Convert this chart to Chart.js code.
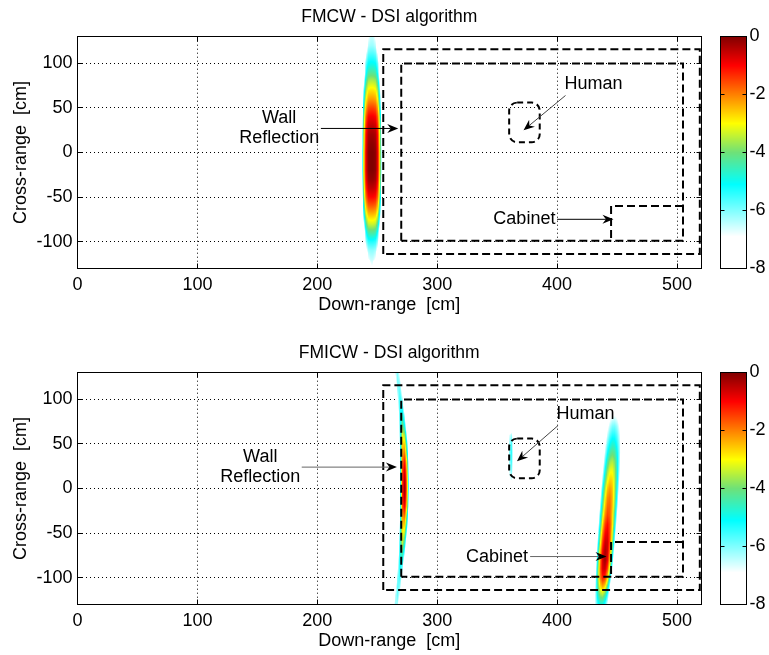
<!DOCTYPE html>
<html><head><meta charset="utf-8">
<script src="https://cdn.jsdelivr.net/npm/chart.js@4/dist/chart.umd.min.js"></script>
<style>
html,body{margin:0;padding:0;background:#fff;overflow:hidden;width:769px;height:655px;position:relative}
canvas{position:absolute;left:0}
#c1{top:0}
#c2{top:336px}
</style></head><body>
<canvas id="c1" width="769" height="319"></canvas>
<canvas id="c2" width="769" height="319"></canvas>
<script>
// ---------- axis / label data ----------
const xTicks = [0, 100, 200, 300, 400, 500];
const yTicks = [-100, -50, 0, 50, 100];
const cbTicks = [0, -2, -4, -6, -8];
const xRange = [0, 520];
const yRange = [-130, 130];
const cbRange = [0, -8];
const titles = ['FMCW - DSI algorithm', 'FMICW - DSI algorithm'];
const xLabel = 'Down-range  [cm]';
const yLabel = 'Cross-range  [cm]';

// ---------- scene outlines (cm) ----------
const outerWall = [[255, -114], [255, 116], [519, 116], [519, -114], [255, -114]];
const innerRoom = [[270, -99], [270, 100], [505, 100], [505, -99], [270, -99]];
const cabinetBox = [[505, -60], [445, -60], [445, -99]];
const humanBox = {x1: 360, x2: 385.5, y1: 11.5, y2: 56};

// ---------- annotations ----------
const fmcwNotes = [
  {lines: ['Wall', 'Reflection'], x: 168.2, y: 27},
  {lines: ['Human'], x: 430.3, y: 77.3},
  {lines: ['Cabinet'], x: 372.7, y: -75}
];
const fmcwArrows = [
  {from: [203, 27], to: [267.5, 27], color: '#000'},
  {from: [407, 64], to: [372, 25], color: '#444'},
  {from: [400, -75], to: [447, -75], color: '#000'}
];
const fmicwNotes = [
  {lines: ['Wall', 'Reflection'], x: 152.4, y: 24.1},
  {lines: ['Human'], x: 423.6, y: 83.8},
  {lines: ['Cabinet'], x: 349.9, y: -76.4}
];
const fmicwArrows = [
  {from: [187, 24], to: [266.4, 24], color: '#666'},
  {from: [400.8, 70.7], to: [366.5, 30.5], color: '#444'},
  {from: [377.5, -76.4], to: [441.2, -76.4], color: '#666'}
];

// ---------- image values (dB) ----------
// FMCW: wall reflection
const fmcwWallX = [236.5, 238.5, 240.5, 242.5, 244.5, 246.5, 248.5, 250.5, 252.5, 254.5];
const fmcwWallY = [130,120,110,100,90,80,70,60,50,40,30,20,10,0,-10,-20,-30,-40,-50,-60,-70,-80,-90,-100,-110,-120,-130];
const fmcwWallDb = [
  [-12,-12,-10.2,-6.97,-6.5,-6.5,-6.97,-10.2,-12,-12],
  [-12,-12,-8.0,-6.43,-6.2,-6.2,-6.43,-8.0,-12,-12],
  [-12,-10.0,-6.76,-5.75,-5.6,-5.6,-5.75,-6.76,-10.0,-12],
  [-12,-8.36,-5.88,-5.11,-5.0,-5.0,-5.11,-5.88,-8.36,-12],
  [-12,-8.45,-5.38,-4.44,-4.3,-4.3,-4.44,-5.38,-8.45,-12],
  [-12,-7.31,-4.49,-3.63,-3.5,-3.5,-3.63,-4.49,-7.31,-12],
  [-12,-6.35,-3.72,-2.92,-2.8,-2.8,-2.92,-3.72,-6.35,-12],
  [-11.5,-5.6,-3.09,-2.31,-2.2,-2.2,-2.31,-3.09,-5.6,-11.5],
  [-10.9,-4.95,-2.4,-1.62,-1.5,-1.5,-1.62,-2.4,-4.95,-10.9],
  [-10.25,-4.32,-1.79,-1.02,-0.9,-0.9,-1.02,-1.79,-4.32,-10.25],
  [-9.93,-3.95,-1.4,-0.62,-0.5,-0.5,-0.62,-1.4,-3.95,-9.93],
  [-9.55,-3.65,-1.13,-0.36,-0.25,-0.25,-0.36,-1.13,-3.65,-9.55],
  [-9.58,-3.57,-1.0,-0.22,-0.1,-0.1,-0.22,-1.0,-3.57,-9.58],
  [-9.16,-3.36,-0.87,-0.11,0,0,-0.11,-0.87,-3.36,-9.16],
  [-9.16,-3.36,-0.87,-0.11,0,0,-0.11,-0.87,-3.36,-9.16],
  [-9.16,-3.36,-0.87,-0.11,0,0,-0.11,-0.87,-3.36,-9.16],
  [-9.57,-3.6,-1.04,-0.27,-0.15,-0.15,-0.27,-1.04,-3.6,-9.57],
  [-9.93,-3.95,-1.4,-0.62,-0.5,-0.5,-0.62,-1.4,-3.95,-9.93],
  [-10.2,-4.37,-1.88,-1.11,-1.0,-1.0,-1.11,-1.88,-4.37,-10.2],
  [-10.8,-5.05,-2.57,-1.81,-1.7,-1.7,-1.81,-2.57,-5.05,-10.8],
  [-11.8,-5.89,-3.38,-2.61,-2.5,-2.5,-2.61,-3.38,-5.89,-11.8],
  [-12,-7.06,-4.28,-3.43,-3.3,-3.3,-3.43,-4.28,-7.06,-12],
  [-12,-8.45,-5.38,-4.44,-4.3,-4.3,-4.44,-5.38,-8.45,-12],
  [-12,-8.72,-6.19,-5.43,-5.3,-5.3,-5.43,-6.19,-8.72,-12],
  [-12,-10.7,-7.31,-6.26,-6.1,-6.1,-6.26,-7.31,-10.7,-12],
  [-12,-12,-9.5,-6.89,-6.5,-6.5,-6.89,-9.5,-12,-12],
  [-12,-12,-12,-12,-7.06,-7.06,-12,-12,-12,-12]
];

// FMICW: wall reflection
const fmicwWallX = [261, 263, 265, 267, 269, 271, 273, 275, 277, 279];
const fmicwWallY = [130,120,110,100,90,80,70,60,50,40,30,20,10,0,-10,-20,-30,-40,-50,-60,-70,-80,-90,-100,-110,-120,-130];
const fmicwWallDb = [
  [-12,-9.04,-6.64,-6.02,-7.18,-10.1,-12,-12,-12,-12],
  [-12,-10.97,-7.45,-5.89,-6.28,-8.62,-12,-12,-12,-12],
  [-12,-12,-8.68,-6.12,-5.7,-7.4,-11.24,-12,-12,-12],
  [-12,-12,-10.6,-6.75,-5.31,-6.27,-9.63,-12,-12,-12],
  [-12,-12,-12,-7.46,-5.24,-5.35,-7.81,-12,-12,-12],
  [-12,-12,-12,-8.42,-5.27,-4.55,-6.24,-10.36,-12,-12],
  [-12,-12,-12,-9.19,-5.36,-4.0,-5.11,-8.7,-12,-12],
  [-12,-12,-12,-10.3,-5.34,-3.12,-3.68,-7.0,-12,-12],
  [-12,-12,-12,-11.2,-5.51,-2.66,-2.66,-5.51,-11.2,-12],
  [-12,-12,-12,-12,-5.99,-2.37,-1.89,-4.57,-10.4,-12],
  [-12,-12,-12,-12,-5.86,-1.89,-1.1,-3.48,-9.04,-12],
  [-12,-12,-12,-12,-6.01,-1.59,-0.57,-2.95,-8.73,-12],
  [-12,-12,-12,-12,-6.25,-1.48,-0.24,-2.54,-8.37,-12],
  [-12,-12,-12,-12,-6.21,-1.31,-0.04,-2.4,-8.38,-12],
  [-12,-12,-12,-12,-5.93,-1.33,-0.27,-2.75,-8.76,-12],
  [-12,-12,-12,-12,-5.77,-1.63,-0.8,-3.28,-9.08,-12],
  [-12,-12,-12,-12,-5.93,-2.19,-1.7,-4.46,-10.47,-12],
  [-12,-12,-12,-11.3,-5.46,-2.56,-2.56,-5.46,-11.3,-12],
  [-12,-12,-12,-10.4,-5.23,-2.93,-3.51,-6.96,-12,-12],
  [-12,-12,-12,-9.4,-4.9,-3.3,-4.61,-8.82,-12,-12],
  [-12,-12,-12,-8.48,-4.88,-4.06,-5.99,-10.7,-12,-12],
  [-12,-12,-12,-7.39,-4.87,-5.0,-7.79,-12,-12,-12],
  [-12,-12,-10.78,-6.66,-5.11,-6.14,-9.75,-12,-12,-12],
  [-12,-12,-8.74,-5.97,-5.5,-7.35,-11.5,-12,-12,-12],
  [-12,-11.24,-7.4,-5.7,-6.12,-8.68,-12,-12,-12,-12],
  [-12,-9.14,-6.51,-5.82,-7.09,-10.3,-12,-12,-12,-12],
  [-11.1,-7.74,-6.14,-6.32,-8.28,-12,-12,-12,-12,-12]
];

// FMICW: human
const fmicwHumanX = [358, 360, 362, 364, 366];
const fmicwHumanY = [70, 60, 50, 40, 30, 20, 10, 0];
const fmicwHumanDb = [
  [-12,-9.0,-8.4,-10,-12],
  [-9.46,-6.8,-6.27,-7.87,-11.6],
  [-10.0,-6.33,-5.59,-7.81,-12],
  [-10.2,-6.2,-5.4,-7.8,-12],
  [-10.0,-6.33,-5.59,-7.81,-12],
  [-9.7,-6.6,-5.98,-7.84,-12],
  [-9.13,-7.07,-6.65,-7.9,-12],
  [-12,-12,-12,-12,-12]
];

// FMICW: cabinet
const fmicwCabX = [428,430,432,434,436,438,440,442,444,446,448,450,452,454,456];
const fmicwCabY = [90,80,70,60,50,40,30,20,10,0,-10,-20,-30,-40,-50,-60,-70,-80,-90,-100,-110,-120,-130];
const fmicwCabDb = [
  [-12,-12,-12,-12,-12,-9.86,-9.0,-8.36,-7.91,-7.66,-7.61,-7.76,-8.11,-8.66,-9.4],
  [-12,-12,-12,-12,-11.5,-9.96,-8.73,-7.79,-7.14,-6.78,-6.71,-6.93,-7.43,-8.23,-9.31],
  [-12,-12,-12,-12,-11.7,-9.83,-8.32,-7.17,-6.4,-5.98,-5.92,-6.23,-6.9,-7.94,-9.34],
  [-12,-12,-12,-12,-11.27,-9.29,-7.72,-6.53,-5.74,-5.35,-5.35,-5.74,-6.53,-7.72,-9.29],
  [-12,-12,-12,-12,-10.8,-8.71,-7.06,-5.85,-5.07,-4.72,-4.81,-5.33,-6.28,-7.67,-9.49],
  [-12,-12,-12,-12,-10.44,-8.2,-6.44,-5.18,-4.39,-4.1,-4.3,-4.98,-6.15,-7.81,-9.95],
  [-12,-12,-12,-12,-9.95,-7.57,-5.73,-4.44,-3.7,-3.51,-3.86,-4.77,-6.22,-8.23,-10.78],
  [-12,-12,-12,-12,-9.29,-6.86,-5.01,-3.76,-3.11,-3.05,-3.58,-4.71,-6.44,-8.76,-11.7],
  [-12,-12,-12,-11.57,-8.53,-6.12,-4.33,-3.17,-2.64,-2.73,-3.45,-4.8,-6.78,-9.38,-12],
  [-12,-12,-12,-10.59,-7.59,-5.26,-3.58,-2.56,-2.2,-2.5,-3.45,-5.06,-7.33,-10.26,-12],
  [-12,-12,-12,-9.87,-6.89,-4.61,-3.02,-2.12,-1.91,-2.4,-3.57,-5.44,-8.0,-11.25,-12],
  [-12,-12,-12,-9.1,-6.2,-4.02,-2.56,-1.81,-1.77,-2.45,-3.84,-5.95,-8.77,-12,-12],
  [-12,-12,-11.66,-8.16,-5.39,-3.37,-2.08,-1.52,-1.71,-2.63,-4.29,-6.68,-9.81,-12,-12],
  [-12,-12,-11.12,-7.51,-4.71,-2.7,-1.5,-1.1,-1.5,-2.7,-4.71,-7.51,-11.12,-12,-12],
  [-12,-12,-10.26,-6.66,-3.92,-2.04,-1.01,-0.84,-1.52,-3.07,-5.47,-8.72,-12,-12,-12],
  [-12,-12,-9.55,-5.94,-3.24,-1.46,-0.59,-0.64,-1.6,-3.47,-6.26,-9.97,-12,-12,-12],
  [-12,-12,-8.59,-5.07,-2.53,-0.94,-0.31,-0.65,-1.95,-4.21,-7.43,-11.6,-12,-12,-12],
  [-12,-12,-8.0,-4.51,-2.05,-0.62,-0.2,-0.82,-2.46,-5.13,-8.82,-12,-12,-12,-12],
  [-12,-11.49,-7.23,-4.01,-1.83,-0.69,-0.58,-1.52,-3.49,-6.5,-10.56,-12,-12,-12,-12],
  [-12,-10.68,-6.74,-3.84,-1.98,-1.15,-1.35,-2.6,-4.88,-8.19,-12,-12,-12,-12,-12],
  [-12,-9.74,-6.49,-4.16,-2.77,-2.3,-2.77,-4.16,-6.49,-9.74,-12,-12,-12,-12,-12],
  [-12,-8.81,-6.38,-4.7,-3.79,-3.63,-4.24,-5.61,-7.75,-10.64,-12,-12,-12,-12,-12],
  [-10.49,-8.2,-6.49,-5.38,-4.85,-4.91,-5.55,-6.79,-8.61,-11.02,-12,-12,-12,-12,-12]
];

// ---------- styling ----------
const FF = "'Liberation Sans', Arial, Helvetica, sans-serif";
const cmapStops = [[0,[128,0,0]],[-1,[255,0,0]],[-2,[255,128,0]],[-3,[255,255,0]],[-4,[110,225,120]],[-5.1,[0,255,255]],[-6.9,[255,255,255]]];

function cmap(v) {
  if (v >= cmapStops[0][0]) return cmapStops[0][1];
  for (let i = 0; i < cmapStops.length - 1; i++) {
    const [v0, c0] = cmapStops[i], [v1, c1] = cmapStops[i + 1];
    if (v <= v0 && v >= v1) {
      const t = (v0 - v) / (v0 - v1);
      return [c0[0] + (c1[0] - c0[0]) * t, c0[1] + (c1[1] - c0[1]) * t, c0[2] + (c1[2] - c0[2]) * t];
    }
  }
  return [255, 255, 255];
}
function al(p) { return Math.round(p - 0.5) + 0.5; }

const heatPlugin = {
  id: 'heat',
  beforeDatasetsDraw(chart) {
    const blobs = chart.options.plugins.heat.blobs;
    const a = chart.chartArea, xs = chart.scales.x, ys = chart.scales.y;
    const L = Math.floor(a.left), T = Math.floor(a.top);
    const W = Math.ceil(a.right) - L, H = Math.ceil(a.bottom) - T;
    const vals = new Float32Array(W * H).fill(-99);
    const xv = new Float32Array(W), yv = new Float32Array(H);
    for (let i = 0; i < W; i++) xv[i] = xs.getValueForPixel(L + i + 0.5);
    for (let j = 0; j < H; j++) yv[j] = ys.getValueForPixel(T + j + 0.5);
    for (const b of blobs) {
      const nx = b.x.length, ny = b.y.length, dx = b.x[1] - b.x[0], dy = b.y[0] - b.y[1], z = b.z;
      for (let j = 0; j < H; j++) {
        const g = (b.y[0] - yv[j]) / dy;
        if (g < 0 || g > ny - 1) continue;
        const r0 = Math.min(Math.floor(g), ny - 2), fy = g - r0;
        for (let i = 0; i < W; i++) {
          const f = (xv[i] - b.x[0]) / dx;
          if (f < 0 || f > nx - 1) continue;
          const c0 = Math.min(Math.floor(f), nx - 2), fx = f - c0;
          const v = (z[r0][c0] * (1 - fx) + z[r0][c0 + 1] * fx) * (1 - fy) +
                    (z[r0 + 1][c0] * (1 - fx) + z[r0 + 1][c0 + 1] * fx) * fy;
          const k = j * W + i;
          if (v > vals[k]) vals[k] = v;
        }
      }
    }
    const off = document.createElement('canvas');
    off.width = W; off.height = H;
    const octx = off.getContext('2d');
    const img = octx.createImageData(W, H);
    for (let k = 0; k < W * H; k++) {
      const v = vals[k];
      if (v < -7.5) continue;
      const c = cmap(v);
      const al8 = Math.max(0, Math.min(1, (v + 7.5) / 0.6));
      img.data[k * 4] = c[0]; img.data[k * 4 + 1] = c[1]; img.data[k * 4 + 2] = c[2];
      img.data[k * 4 + 3] = Math.round(al8 * 255);
    }
    octx.putImageData(img, 0, 0);
    const ctx = chart.ctx;
    ctx.save();
    ctx.beginPath(); ctx.rect(a.left, a.top, a.right - a.left, a.bottom - a.top); ctx.clip();
    ctx.drawImage(off, L, T);
    ctx.restore();
  }
};

function drawArrow(ctx, x1, y1, x2, y2, color) {
  const ang = Math.atan2(y2 - y1, x2 - x1), ux = Math.cos(ang), uy = Math.sin(ang), nx = -uy, ny = ux;
  const len = 11, wd = 4.5, notch = 3.5;
  ctx.strokeStyle = color; ctx.lineWidth = 1;
  ctx.beginPath(); ctx.moveTo(x1, y1); ctx.lineTo(x2 - ux * (len - notch), y2 - uy * (len - notch)); ctx.stroke();
  ctx.fillStyle = '#000';
  ctx.beginPath();
  ctx.moveTo(x2, y2);
  ctx.lineTo(x2 - ux * len + nx * wd, y2 - uy * len + ny * wd);
  ctx.lineTo(x2 - ux * (len - notch), y2 - uy * (len - notch));
  ctx.lineTo(x2 - ux * len - nx * wd, y2 - uy * len - ny * wd);
  ctx.closePath(); ctx.fill();
}

const framePlugin = {
  id: 'frame',
  afterDatasetsDraw(chart) {
    const o = chart.options.plugins.frame;
    const ctx = chart.ctx, xs = chart.scales.x, ys = chart.scales.y, a = chart.chartArea;
    const X = v => xs.getPixelForValue(v), Y = v => ys.getPixelForValue(v);
    ctx.save();
    ctx.beginPath(); ctx.rect(a.left, a.top, a.right - a.left, a.bottom - a.top); ctx.clip();
    ctx.setLineDash([6, 4]); ctx.lineWidth = 2; ctx.strokeStyle = '#000';
    ctx.beginPath();
    ctx.roundRect(X(humanBox.x1), Y(humanBox.y2), X(humanBox.x2) - X(humanBox.x1), Y(humanBox.y1) - Y(humanBox.y2), 8);
    ctx.stroke();
    ctx.setLineDash([]);
    for (const ar of o.arrows) drawArrow(ctx, X(ar.from[0]), Y(ar.from[1]), X(ar.to[0]), Y(ar.to[1]), ar.color);
    ctx.restore();
    ctx.save();
    ctx.font = '18px ' + FF; ctx.fillStyle = '#000'; ctx.textAlign = 'center'; ctx.textBaseline = 'middle';
    for (const n of o.notes) {
      const m = n.lines.length;
      n.lines.forEach((s, i) => ctx.fillText(s, X(n.x), Y(n.y) + (i - (m - 1) / 2) * 20));
    }
    ctx.restore();
    ctx.save();
    ctx.strokeStyle = '#000'; ctx.lineWidth = 1;
    const L = al(a.left), R = al(a.right), T = al(a.top), B = al(a.bottom);
    ctx.strokeRect(L, T, R - L, B - T);
    ctx.beginPath();
    for (const v of xTicks) { const p = al(X(v)); ctx.moveTo(p, B); ctx.lineTo(p, B - 5); ctx.moveTo(p, T); ctx.lineTo(p, T + 5); }
    for (const v of yTicks) { const p = al(Y(v)); ctx.moveTo(L, p); ctx.lineTo(L + 5, p); ctx.moveTo(R, p); ctx.lineTo(R - 5, p); }
    ctx.stroke();
    const cbL = 720.5, cbR = 746.5;
    for (let y = Math.floor(T); y < B; y++) {
      const v = cbRange[0] + (cbRange[1] - cbRange[0]) * ((y + 0.5 - T) / (B - T));
      const c = cmap(v);
      ctx.fillStyle = 'rgb(' + Math.round(c[0]) + ',' + Math.round(c[1]) + ',' + Math.round(c[2]) + ')';
      ctx.fillRect(cbL, y, cbR - cbL, 1);
    }
    ctx.strokeRect(cbL, T, cbR - cbL, B - T);
    ctx.beginPath();
    ctx.font = '18px ' + FF; ctx.fillStyle = '#000'; ctx.textAlign = 'left'; ctx.textBaseline = 'middle';
    for (const v of cbTicks) {
      const p = al(T + (cbRange[0] - v) / (cbRange[0] - cbRange[1]) * (B - T));
      ctx.moveTo(cbL, p); ctx.lineTo(cbL + 4, p); ctx.moveTo(cbR, p); ctx.lineTo(cbR - 4, p);
      ctx.fillText(String(v), cbR + 3, p);
    }
    ctx.stroke();
    ctx.restore();
  }
};

function pts(arr) { return arr.map(([x, y]) => ({x, y})); }

function makeChart(id, title, blobs, notes, arrows) {
  const outlines = [outerWall, innerRoom, cabinetBox];
  return new Chart(document.getElementById(id), {
    type: 'scatter',
    data: {
      datasets: outlines.map(o => ({
        data: pts(o), showLine: true, borderColor: '#000', borderWidth: 2,
        borderDash: [8, 4], pointRadius: 0, fill: false, tension: 0
      }))
    },
    options: {
      responsive: false, animation: false, events: [],
      layout: {padding: {left: 0, right: 68, top: 0, bottom: 0}},
      plugins: {
        legend: {display: false}, tooltip: {enabled: false},
        title: {display: true, text: title, fullSize: false, color: '#000',
                font: {family: FF, size: 17.5, weight: 'normal'}, padding: {top: 6.8, bottom: 8.9}},
        heat: {blobs},
        frame: {notes, arrows}
      },
      scales: {
        x: {
          type: 'linear', position: 'bottom', min: xRange[0], max: xRange[1],
          afterBuildTicks: s => { s.ticks = xTicks.map(v => ({value: v})); },
          afterFit: s => { s.height = 50.7; },
          ticks: {font: {family: FF, size: 18}, color: '#000', padding: 5.9, autoSkip: false, maxRotation: 0},
          grid: {color: '#000', lineWidth: 1, drawTicks: false},
          border: {display: false, dash: [1, 3]},
          title: {display: true, text: xLabel, color: '#000', font: {family: FF, size: 18}, padding: {top: 0, bottom: 3.2}}
        },
        y: {
          type: 'linear', position: 'left', min: yRange[0], max: yRange[1],
          afterBuildTicks: s => { s.ticks = yTicks.map(v => ({value: v})); },
          afterFit: s => { s.width = 77.5; },
          ticks: {font: {family: FF, size: 18}, color: '#000', padding: 5, autoSkip: false},
          grid: {color: '#000', lineWidth: 1, drawTicks: false},
          border: {display: false, dash: [1, 3]},
          title: {display: true, text: yLabel, color: '#000', font: {family: FF, size: 18}, padding: {top: 9.9, bottom: 0}}
        }
      }
    },
    plugins: [heatPlugin, framePlugin]
  });
}

makeChart('c1', titles[0],
  [{x: fmcwWallX, y: fmcwWallY, z: fmcwWallDb}],
  fmcwNotes, fmcwArrows);
makeChart('c2', titles[1],
  [{x: fmicwWallX, y: fmicwWallY, z: fmicwWallDb},
   {x: fmicwHumanX, y: fmicwHumanY, z: fmicwHumanDb},
   {x: fmicwCabX, y: fmicwCabY, z: fmicwCabDb}],
  fmicwNotes, fmicwArrows);
</script>
</body></html>
